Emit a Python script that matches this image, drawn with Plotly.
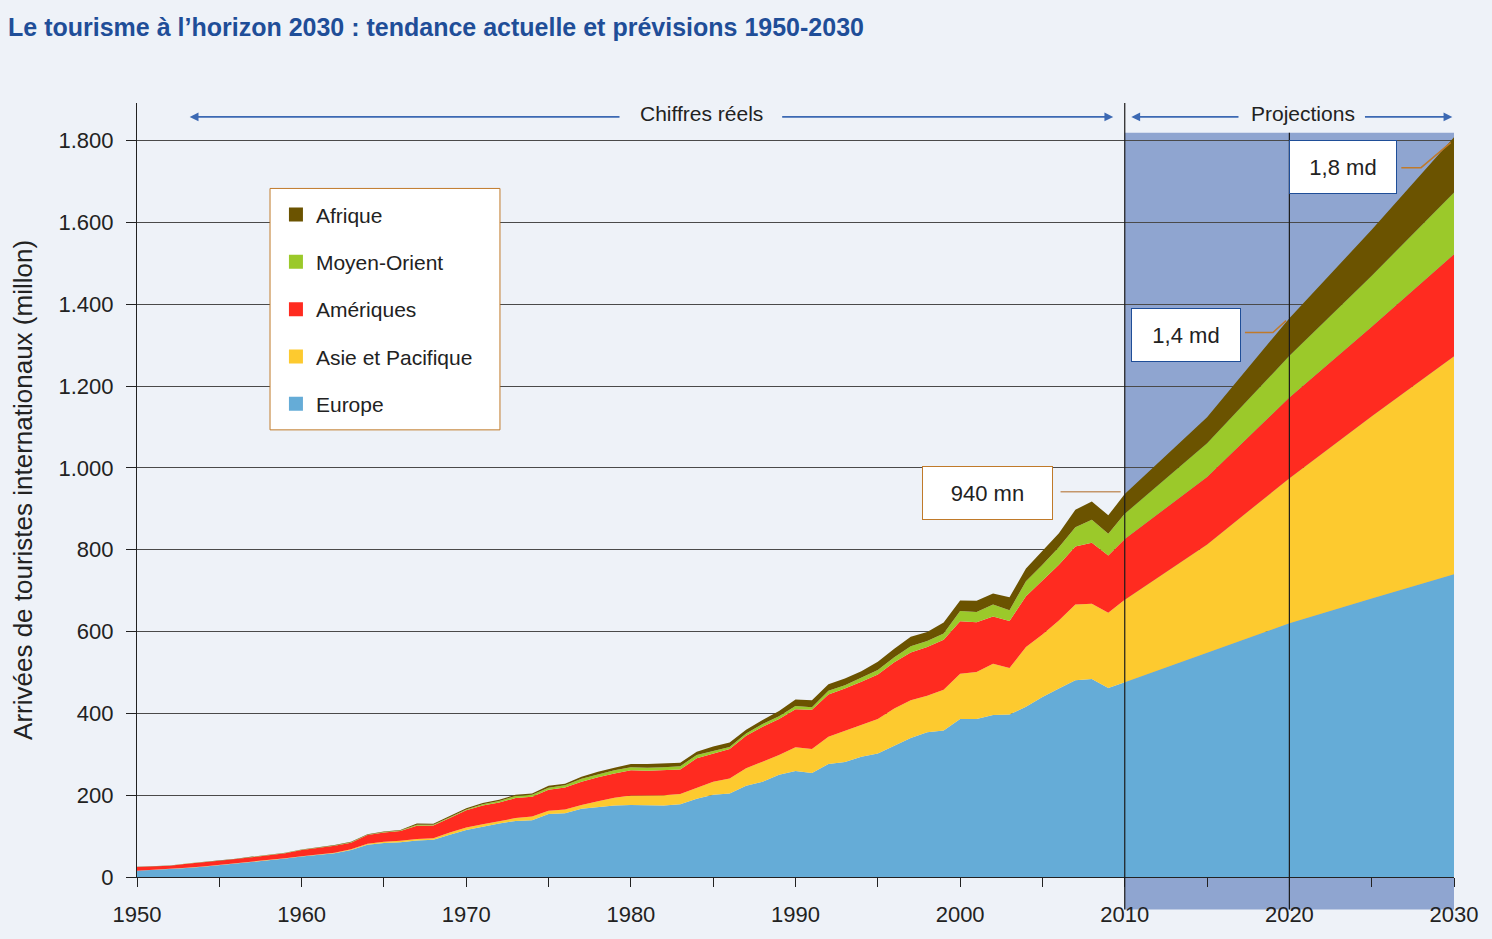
import plotly.graph_objects as go

# years: annual actuals 1950-2010, then projection points
years = list(range(1950, 2011)) + [2015, 2020, 2025, 2030]

europe = [15, 17, 19, 22, 25, 29, 32, 37, 41, 45,
          50, 54, 58, 66, 79, 83, 85, 89, 91, 103,
          115, 123, 131, 137, 139, 154, 156, 167, 171, 175,
          176, 176, 175, 178, 191, 201, 204, 223, 233, 250,
          259, 254, 276, 281, 294, 302, 321, 340, 354, 358,
          386, 386, 396, 397, 416, 440, 461, 481, 484, 462,
          476, 548, 620, 681, 740]

asie_pacifique = [0.2, 0.3, 0.3, 0.4, 0.5, 0.6, 0.7, 0.8, 0.9, 1.0,
                  1.0, 1.2, 1.5, 2.0, 2.5, 3.0, 3.5, 4, 4, 6,
                  6, 6, 6, 7, 9, 8, 9, 9, 14, 19,
                  23, 23, 25, 25, 28, 32, 37, 43, 49, 48,
                  58, 59, 67, 76, 77, 84, 91, 92, 89, 100,
                  111, 115, 125, 114, 146, 153, 166, 185, 184, 184,
                  202, 265, 355, 445, 533]

ameriques = [9, 8, 8, 10, 10, 10, 11, 11, 12, 12,
             15, 16, 17, 16, 21, 23, 24, 32, 31, 35,
             42, 46, 45, 49, 48, 51, 54, 57, 59, 59,
             62, 61, 62, 60, 71, 68, 72, 79, 85, 88,
             93, 96, 103, 104, 106, 109, 113, 117, 119, 122,
             128, 122, 116, 115, 124, 132, 136, 142, 149, 140,
             148, 165, 197, 219, 249]

moyen_orient = [0.2, 0.2, 0.2, 0.3, 0.3, 0.3, 0.3, 0.4, 0.4, 0.5,
                0.6, 0.7, 0.8, 0.9, 1.0, 1.2, 1.3, 3, 2, 2,
                2, 3, 4, 5, 5, 5, 5, 7, 7, 8,
                7, 7, 6, 8, 8, 7, 5, 6, 7, 7,
                8, 6, 9, 8, 10, 11, 12, 15, 15, 15,
                25, 25, 29, 26, 37, 38, 43, 47, 56, 53,
                62, 82, 102, 125, 151]

afrique = [0.5, 0.5, 0.5, 0.5, 0.6, 0.6, 0.6, 0.7, 0.7, 0.7,
           0.8, 0.8, 0.9, 1.0, 1.1, 1.2, 1.3, 2.7, 2, 3,
           3, 3, 3, 3, 3, 5, 4, 5, 6, 6,
           8, 9, 9, 8, 8, 11, 11, 9, 10, 13,
           16, 17, 16, 16, 16, 20, 21, 23, 22, 27,
           26, 27, 27, 32, 31, 33, 34, 43, 45, 45,
           48, 64, 92, 112, 135]

regions = [
    ("Europe", europe, "#65acd7"),
    ("Asie et Pacifique", asie_pacifique, "#fdca2f"),
    ("Amériques", ameriques, "#ff2b20"),
    ("Moyen-Orient", moyen_orient, "#9bc92a"),
    ("Afrique", afrique, "#6b5300"),
]

y_ticks = list(range(0, 1801, 200))
x_ticks = list(range(1950, 2031, 10))
x_min, x_max = 1950, 2030
y_max = 1892
proj_start, proj_mid = 2010, 2020

BG = "#eef2f8"
FONT = "Liberation Sans"
TXT = "#222222"
BLUE = "#1f4e98"
ORANGE = "#c07a2a"
ARROW = "#3c69b3"

fig = go.Figure()

for name, vals, col in regions:
    fig.add_trace(go.Scatter(
        x=years, y=vals, name=name, stackgroup="one", mode="lines",
        line=dict(width=0, color=col), fillcolor=col, showlegend=False,
        hoverinfo="x+y+name",
    ))

# legend entries as small squares (Afrique on top)
for i, (name, vals, col) in enumerate(reversed(regions)):
    fig.add_trace(go.Scatter(
        x=[None], y=[None], name=name, mode="markers", legendgroup=f"g{i}",
        marker=dict(symbol="square", size=14, color=col),
    ))


def px(year):
    return (year - x_min) / (x_max - x_min)


shapes = [
    # shaded projection zone
    dict(type="rect", xref="paper", yref="paper", x0=px(proj_start), x1=1.0,
         y0=-0.042, y1=0.9615, fillcolor="#8fa5d0", line=dict(width=0), layer="below"),
    dict(type="line", xref="paper", yref="paper", x0=px(proj_start), x1=px(proj_start),
         y0=-0.042, y1=1.0, line=dict(color="#1a1a1a", width=1.2), layer="above"),
    dict(type="line", xref="paper", yref="paper", x0=px(proj_mid), x1=px(proj_mid),
         y0=-0.042, y1=0.9615, line=dict(color="#1a1a1a", width=1.2), layer="above"),
    # legend frame
    dict(type="rect", xref="paper", yref="paper", x0=0.101, x1=0.2756, y0=0.5777, y1=0.8896,
         fillcolor="white", line=dict(color=ORANGE, width=1), layer="above"),
    # leader lines for callouts
    dict(type="path", xref="x", yref="y", path="M2006.1,942 L2009.75,942",
         line=dict(color="#c4966a", width=1.5)),
    dict(type="path", xref="x", yref="y", path="M2017.3,1331 L2019.0,1331 L2019.8,1360",
         line=dict(color=ORANGE, width=1.5)),
    dict(type="path", xref="x", yref="y", path="M2026.8,1734 L2028.0,1734 L2029.8,1795",
         line=dict(color=ORANGE, width=1.5)),
]

annotations = [
    dict(text="Arrivées de touristes internationaux (millon)", xref="paper", yref="paper",
         x=-0.0866, y=0.5, xanchor="center", yanchor="middle", textangle=-90, showarrow=False,
         font=dict(size=26, color=TXT, family=FONT)),
    dict(text="Chiffres réels", xref="x", yref="y", x=1984.3, y=1866, showarrow=False,
         font=dict(size=21, color=TXT, family=FONT)),
    dict(text="Projections", xref="x", yref="y", x=2020.8, y=1866, showarrow=False,
         font=dict(size=21, color=TXT, family=FONT)),
    dict(text="940 mn", xref="x", yref="y", x=2001.66, y=938, showarrow=False,
         bgcolor="white", bordercolor=ORANGE, borderwidth=1, width=121, height=44, borderpad=4,
         font=dict(size=22, color=TXT, family=FONT)),
    dict(text="1,4 md", xref="x", yref="y", x=2013.72, y=1326, showarrow=False,
         bgcolor="white", bordercolor=BLUE, borderwidth=1, width=100, height=44, borderpad=4,
         font=dict(size=22, color=TXT, family=FONT)),
    dict(text="1,8 md", xref="x", yref="y", x=2023.26, y=1735, showarrow=False,
         bgcolor="white", bordercolor=BLUE, borderwidth=1, width=98, height=44, borderpad=4,
         font=dict(size=22, color=TXT, family=FONT)),
]

# period arrows
for tip, tail in [(1953.2, 1979.4), (2009.3, 1989.1), (2010.4, 2017.0), (2029.9, 2024.5)]:
    annotations.append(dict(
        text="", x=tip, y=1858, ax=tail, ay=1858, xref="x", yref="y", axref="x", ayref="y",
        showarrow=True, arrowhead=2, arrowsize=1.1, arrowwidth=1.6, arrowcolor=ARROW,
    ))

fig.update_layout(
    width=1492, height=939,
    paper_bgcolor=BG, plot_bgcolor="rgba(0,0,0,0)",
    margin=dict(l=137, r=38, t=103, b=57),
    separators=",.",
    font=dict(family=FONT, size=21, color=TXT),
    title=dict(
        text="<b>Le tourisme à l’horizon 2030 : tendance actuelle et prévisions 1950-2030</b>",
        x=0.0054, xanchor="left", xref="container", y=0.971, yanchor="middle",
        font=dict(size=25, color=BLUE, family=FONT),
    ),
    xaxis=dict(
        range=[x_min, x_max], tickvals=x_ticks, ticks="outside", ticklen=9, tickwidth=1.2,
        tickcolor="#222", showgrid=False, zeroline=False, showline=True,
        linecolor="#222", linewidth=1.2, ticklabelstandoff=8,
        minor=dict(dtick=5, ticks="outside", ticklen=9, tickwidth=1.2, tickcolor="#222", showgrid=False),
        tickfont=dict(size=22, color=TXT, family=FONT),
    ),
    yaxis=dict(
        range=[0, y_max], tickvals=y_ticks, tickformat=",", ticks="outside", ticklen=10,
        tickwidth=1.2, tickcolor="#222", showgrid=True, gridcolor="#4a4a4a", gridwidth=1,
        zeroline=False, showline=True, linecolor="#222", linewidth=1.2,
        ticklabelstandoff=8, tickfont=dict(size=22, color=TXT, family=FONT),
    ),
    legend=dict(
        x=0.1055, y=0.8819, xanchor="left", yanchor="top",
        bgcolor="rgba(0,0,0,0)", borderwidth=0,
        font=dict(size=21, color=TXT, family=FONT), tracegroupgap=17,
    ),
    shapes=shapes,
    annotations=annotations,
    hovermode="x unified",
)

fig.write_html("out.html", config={"displayModeBar": False},
               post_script="document.body.style.margin='0';")
